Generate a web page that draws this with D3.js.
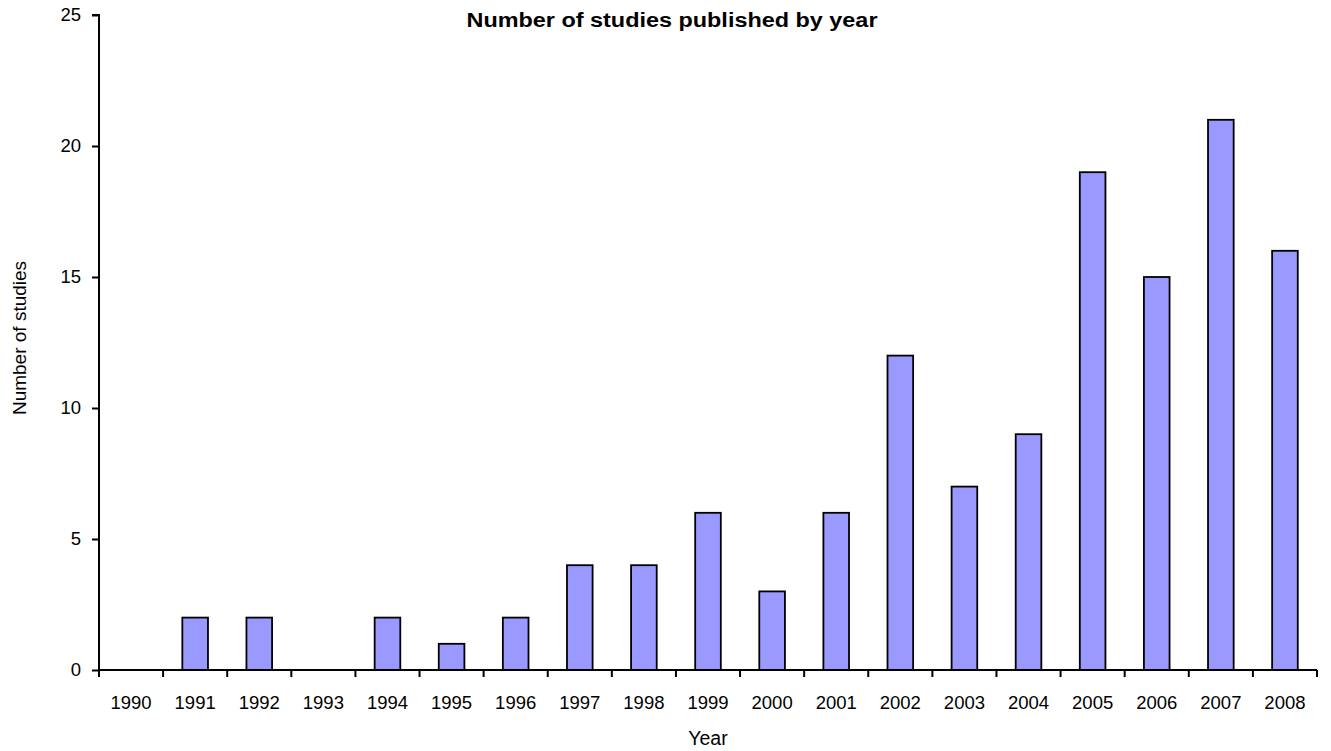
<!DOCTYPE html>
<html>
<head>
<meta charset="utf-8">
<script src="https://cdn.jsdelivr.net/npm/d3@7"></script>
<style>
  body { margin: 0; background: #fff; }
  text { font-family: "Liberation Sans", Arial, sans-serif; fill: #000; }
</style>
</head>
<body>
<svg id="chart"></svg>
<script>
var years = ["1990", "1991", "1992", "1993", "1994", "1995", "1996", "1997", "1998", "1999",
             "2000", "2001", "2002", "2003", "2004", "2005", "2006", "2007", "2008"];
var studies = [0, 2, 2, 0, 2, 1, 2, 4, 4, 6, 3, 6, 12, 7, 9, 19, 15, 21, 16];
var yTicks = [0, 5, 10, 15, 20, 25];

var width = 1331, height = 751;
var plotLeft = 99, plotRight = 1317, plotTop = 15, plotBottom = 670;

var svg = d3.select("#chart")
    .attr("width", width)
    .attr("height", height);

var x = d3.scaleBand()
    .domain(years)
    .range([plotLeft, plotRight])
    .padding(0);

var y = d3.scaleLinear()
    .domain([0, 25])
    .range([plotBottom, plotTop]);

var bw = x.bandwidth() * 0.4;

var rows = years.map(function(d, i) { return {year: d, n: studies[i]}; })
    .filter(function(d) { return d.n > 0; });

svg.append("g")
    .selectAll("rect")
    .data(rows)
    .enter()
    .append("rect")
    .attr("x", function(d) { return x(d.year) + (x.bandwidth() - bw) / 2; })
    .attr("y", function(d) { return y(d.n); })
    .attr("width", bw)
    .attr("height", function(d) { return plotBottom - y(d.n); })
    .attr("fill", "#9999ff")
    .attr("stroke", "#000")
    .attr("stroke-width", 1.8);

// y axis
var yAxis = svg.append("g")
    .attr("transform", "translate(" + plotLeft + ",0)")
    .call(d3.axisLeft(y).tickValues(yTicks).tickSize(7).tickPadding(11));
yAxis.selectAll("text").style("font-size", "18.5px");

// x axis, ticks sit at the category boundaries
var xAxis = svg.append("g")
    .attr("transform", "translate(0," + plotBottom + ")")
    .call(d3.axisBottom(x).tickSize(0).tickPadding(26));
xAxis.selectAll("text").style("font-size", "18.5px");

var bounds = years.map(function(d) { return x(d); }).concat([plotRight]);
xAxis.selectAll(".bound")
    .data(bounds)
    .enter()
    .append("line")
    .attr("class", "bound")
    .attr("x1", function(d) { return d; })
    .attr("x2", function(d) { return d; })
    .attr("y1", 0)
    .attr("y2", 7)
    .attr("stroke", "#000");

svg.selectAll(".domain").attr("stroke", "#000").attr("stroke-width", 2);
svg.selectAll(".tick line, .bound").attr("stroke-width", 2);
xAxis.select(".domain").attr("d", "M" + plotLeft + ",0H" + plotRight);
yAxis.select(".domain").attr("d", "M-7," + plotTop + "H0V" + plotBottom);

svg.append("text")
    .attr("x", 672)
    .attr("y", 27)
    .attr("text-anchor", "middle")
    .attr("textLength", 411)
    .attr("lengthAdjust", "spacingAndGlyphs")
    .style("font-size", "20px")
    .style("font-weight", "bold")
    .text("Number of studies published by year");

svg.append("text")
    .attr("x", 708)
    .attr("y", 745)
    .attr("text-anchor", "middle")
    .style("font-size", "19.5px")
    .text("Year");

svg.append("text")
    .attr("transform", "translate(26,338) rotate(-90)")
    .attr("text-anchor", "middle")
    .style("font-size", "19px")
    .text("Number of studies");
</script>
</body>
</html>
